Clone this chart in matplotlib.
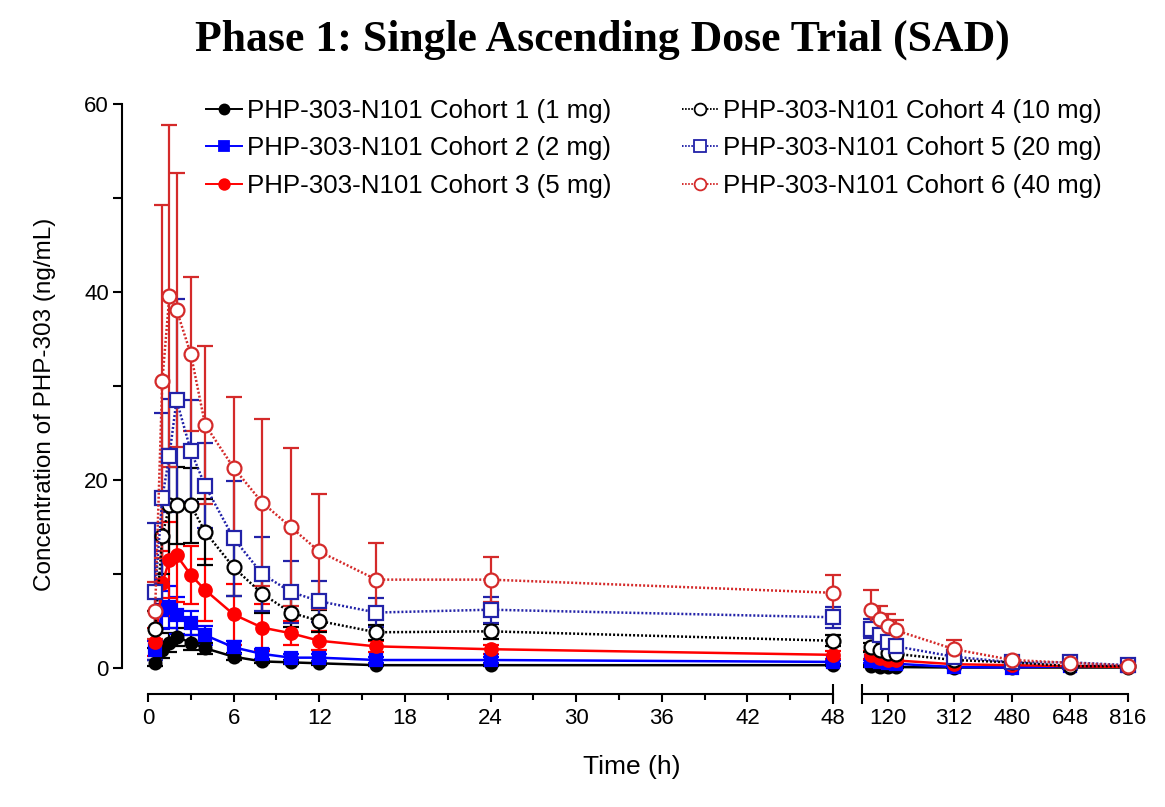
import numpy as np
import matplotlib
matplotlib.use("Agg")
import matplotlib.pyplot as plt
import matplotlib.transforms as mtransforms
from matplotlib.lines import Line2D

plt.rcParams['font.family'] = ['Liberation Sans', 'DejaVu Sans']

# sampling times (h); points after 48 h go on the second (broken) panel
time_h = [0.5, 1, 1.5, 2, 3, 4, 6, 8, 10, 12, 16, 24, 48,
          72, 96, 120, 144, 312, 480, 648, 816]

c1_mean = [0.5, 1.9, 2.7, 3.3, 2.7, 2.1, 1.2, 0.7, 0.6, 0.5, 0.3, 0.3, 0.3,
           0.2, 0.15, 0.1, 0.1, 0.05, 0.05, 0.05, 0.05]
c1_sd = [0.3, 0.8, 1.0, 1.0, 0.8, 0.6, 0.4, 0.2, 0.2, 0.2, 0.1, 0.1, 0.1,
         0.1, 0.05, 0.05, 0.05, 0.02, 0.02, 0.02, 0.02]

c2_mean = [1.9, 6.2, 6.5, 5.6, 4.8, 3.5, 2.2, 1.5, 1.1, 1.1, 0.85, 0.85, 0.65,
           0.7, 0.6, 0.5, 0.45, 0.1, 0.05, 0.2, 0.2]
c2_sd = [1.0, 2.0, 2.2, 2.0, 1.3, 1.0, 0.7, 0.5, 0.4, 0.4, 0.3, 0.3, 0.2,
         0.2, 0.2, 0.2, 0.15, 0.05, 0.05, 0.1, 0.1]

c3_mean = [2.8, 9.0, 11.5, 12.0, 9.9, 8.3, 5.7, 4.3, 3.7, 2.9, 2.3, 2.0, 1.4,
           1.4, 1.1, 0.9, 0.8, 0.4, 0.3, 0.2, 0.1]
c3_sd = [1.5, 3.5, 4.0, 5.0, 3.1, 3.3, 3.2, 2.5, 1.3, 1.0, 0.6, 0.5, 0.4,
         0.4, 0.3, 0.3, 0.2, 0.1, 0.1, 0.1, 0.05]

c4_mean = [4.1, 14.0, 17.3, 17.3, 17.3, 14.5, 10.7, 7.9, 5.9, 5.0, 3.8, 3.9, 2.9,
           2.2, 1.9, 1.6, 1.5, 0.85, 0.6, 0.2, 0.2]
c4_sd = [2.0, 4.0, 6.0, 4.1, 4.0, 3.5, 3.0, 2.0, 1.5, 1.2, 0.8, 0.8, 0.6,
         0.5, 0.4, 0.4, 0.3, 0.2, 0.2, 0.1, 0.1]

c5_mean = [8.1, 18.1, 22.6, 28.5, 23.1, 19.4, 13.8, 10.0, 8.1, 7.1, 5.9, 6.2, 5.4,
           4.2, 3.5, 2.8, 2.3, 1.2, 0.6, 0.6, 0.3]
c5_sd = [7.3, 9.0, 6.0, 10.8, 5.4, 4.5, 6.1, 3.9, 3.3, 2.2, 1.5, 1.4, 1.1,
         1.0, 0.8, 0.6, 0.5, 0.3, 0.2, 0.1, 0.1]

c6_mean = [6.1, 30.5, 39.6, 38.1, 33.4, 25.9, 21.3, 17.6, 15.0, 12.4, 9.4, 9.4, 8.0,
           6.2, 5.2, 4.5, 4.0, 2.0, 0.85, 0.55, 0.25]
c6_sd = [3.0, 18.8, 18.2, 14.6, 8.2, 8.4, 7.5, 8.9, 8.4, 6.1, 3.9, 2.4, 1.9,
         2.1, 1.4, 1.2, 1.1, 1.0, 0.3, 0.2, 0.1]

labels = ['PHP-303-N101 Cohort 1 (1 mg)', 'PHP-303-N101 Cohort 2 (2 mg)',
          'PHP-303-N101 Cohort 3 (5 mg)', 'PHP-303-N101 Cohort 4 (10 mg)',
          'PHP-303-N101 Cohort 5 (20 mg)', 'PHP-303-N101 Cohort 6 (40 mg)']

left_ticks = list(range(0, 49, 6))
right_ticks = [120, 312, 480, 648, 816]

dots = (0, (0.8, 0.8))
# style per cohort: color, marker, filled, linestyle, marker size
styles = [
    ('black', 'o', True, '-', 8.5),
    ('#0000ff', 's', True, '-', 8.5),
    ('#ff0000', 'o', True, '-', 9),
    ('black', 'o', False, dots, 10),
    ('#2222a8', 's', False, dots, 9.5),
    ('#d42a2a', 'o', False, dots, 10),
]
means = [c1_mean, c2_mean, c3_mean, c4_mean, c5_mean, c6_mean]
sds = [c1_sd, c2_sd, c3_sd, c4_sd, c5_sd, c6_sd]

W, H = 1165, 807
fig = plt.figure(figsize=(W / 100, H / 100), dpi=100)
axL = fig.add_axes([148 / W, 139 / H, 685 / W, 564 / H])
axR = fig.add_axes([862 / W, 139 / H, 266 / W, 564 / H])

t = np.array(time_h)
left = t <= 48
right = t > 48

for ax, mask in ((axL, left), (axR, right)):
    for (col, mk, filled, ls, ms), m, s in zip(styles, means, sds):
        m = np.array(m)[mask]
        s = np.array(s)[mask]
        cont = ax.errorbar(t[mask], m, yerr=s, color=col, marker=mk, ms=ms,
                           mfc=col if filled else 'white', mec=col, mew=1.6,
                           ls=ls, lw=1.8, elinewidth=1.6, capsize=6, capthick=1.6)
        for a in cont.get_children():
            a.set_clip_on(False)

for ax in (axL, axR):
    ax.set_ylim(0, 60)
    ax.spines['top'].set_visible(False)
    ax.spines['right'].set_visible(False)
    ax.spines['bottom'].set_position(('outward', 18.7))
    ax.spines['bottom'].set_linewidth(1.5)
    ax.tick_params(axis='x', which='major', direction='out', length=6, width=1.5,
                   labelsize=16, pad=4)
    ax.tick_params(axis='x', which='minor', direction='out', length=4.5, width=1.5)

axL.set_xlim(0, 48)
axL.set_xticks(left_ticks)
axL.set_xticks(list(range(3, 48, 6)), minor=True)
axL.spines['left'].set_position(('outward', 18.7))
axL.spines['left'].set_linewidth(1.5)
axL.set_yticks([0, 20, 40, 60])
axL.set_yticks([10, 30, 50], minor=True)
axL.tick_params(axis='y', which='major', direction='out', length=6.5, width=1.5,
                labelsize=16, pad=3)
axL.tick_params(axis='y', which='minor', direction='out', length=6.5, width=1.5)

axR.set_xlim(45, 816)
axR.set_xticks(right_ticks)
axR.spines['left'].set_visible(False)
axR.set_yticks([])

# end marks of the broken axis
for ax, xe in ((axL, 48), (axR, 45)):
    tr = mtransforms.offset_copy(
        mtransforms.blended_transform_factory(ax.transData, ax.transAxes),
        fig=fig, y=-18.7, units='points')
    ax.plot([xe], [0], marker='|', ms=14, mew=1.5, color='black',
            transform=tr, clip_on=False)

handles = []
for col, mk, filled, ls, ms in styles:
    handles.append(Line2D([], [], color=col, marker=mk, ms=ms * 0.85,
                          mfc=col if filled else 'white', mec=col, mew=1.3,
                          ls=ls, lw=1.4))
fig.legend(handles, labels, ncol=2, loc='upper left',
           bbox_to_anchor=(206 / W, 1 - 99 / H), frameon=False, fontsize=18.6,
           handlelength=1.4, handletextpad=0.2, columnspacing=2.7,
           labelspacing=0.52, borderpad=0, borderaxespad=0)

fig.text(602 / W, 1 - 40 / H, 'Phase 1: Single Ascending Dose Trial (SAD)',
         ha='center', va='center', fontsize=31.5, fontweight='bold',
         family=['Liberation Serif', 'DejaVu Serif'])
fig.text(45 / W, 1 - 404 / H, 'Concentration of PHP-303 (ng/mL)', rotation=90,
         ha='center', va='center', fontsize=17.5)
fig.text(632 / W, 1 - 767 / H, 'Time (h)', ha='center', va='center', fontsize=19)

fig.savefig('out.png', dpi=100)
